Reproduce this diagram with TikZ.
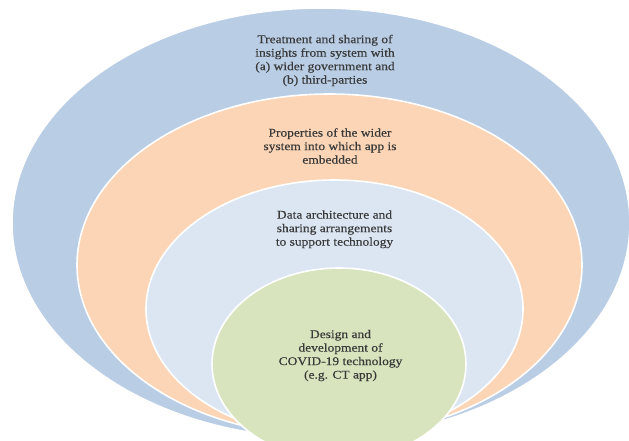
\documentclass[tikz,border=0pt]{standalone}
\usepackage{fontspec}
\setmainfont[FakeStretch=1.14, FakeBold=0.35]{Liberation Serif}
\definecolor{outerblue}{HTML}{B9CDE5}
\definecolor{peach}{HTML}{FBD5B5}
\definecolor{paleblue}{HTML}{DCE6F2}
\definecolor{palegreen}{HTML}{D7E4BD}
\definecolor{txt}{HTML}{3A3A3A}
\tikzset{
  ring/.style={draw=white, line width=1.6pt},
  label/.style={align=center, inner sep=0pt, text=txt,
    font=\fontsize{11.8}{13.5}\selectfont}
}
\begin{document}
\begin{tikzpicture}[x=1pt,y=-1pt]
\useasboundingbox (0,0) rectangle (629,440);
\clip (0,0) rectangle (629,440);
\fill[white] (0,0) rectangle (629,440);
\filldraw[ring, fill=outerblue] (321,223) ellipse [x radius=309pt, y radius=215pt];
\filldraw[ring, fill=peach] (329.5,265) ellipse [x radius=252.5pt, y radius=171pt];
\filldraw[ring, fill=paleblue] (334.5,309) ellipse [x radius=188.5pt, y radius=129pt];
\filldraw[ring, fill=palegreen] (339,364) ellipse [x radius=127pt, y radius=96pt];
\node[label] (t1) at (325,60.5) {Treatment and sharing of\\insights from system with\\(a) wider government and\\(b) third-parties};
\node[label] (t2) at (330,146) {Properties of the wider\\system into which app is\\embedded};
\node[label] (t3) at (334.5,229.3) {Data architecture and\\sharing arrangements\\to support technology};
\node[label] (t4) at (340.5,355.5) {Design and\\development of\\COVID-19 technology\\(e.g. CT app)};
\end{tikzpicture}
\end{document}
